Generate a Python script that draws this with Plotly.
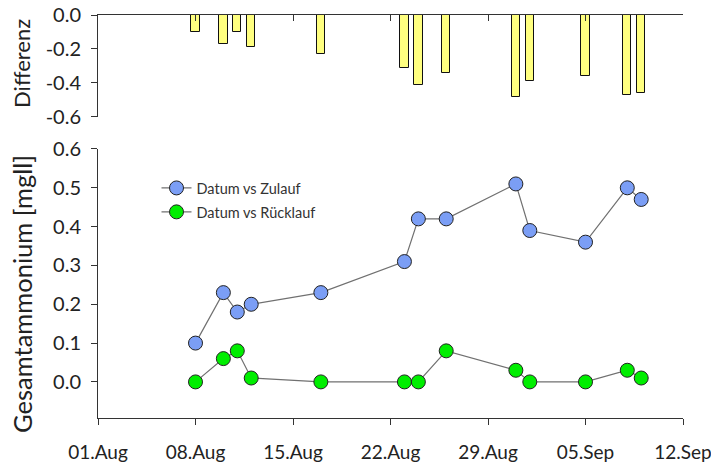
import plotly.graph_objects as go

dates = ["2013-08-08", "2013-08-10", "2013-08-11", "2013-08-12", "2013-08-17",
         "2013-08-23", "2013-08-24", "2013-08-26", "2013-08-31", "2013-09-01",
         "2013-09-05", "2013-09-08", "2013-09-09"]
zulauf = [0.10, 0.23, 0.18, 0.20, 0.23, 0.31, 0.42, 0.42, 0.51, 0.39, 0.36, 0.50, 0.47]
ruecklauf = [0.00, 0.06, 0.08, 0.01, 0.00, 0.00, 0.00, 0.08, 0.03, 0.00, 0.00, 0.03, 0.01]
differenz = [-0.10, -0.17, -0.10, -0.19, -0.23, -0.31, -0.41, -0.34, -0.48, -0.39, -0.36, -0.47, -0.46]

FONT = "Lato, 'Open Sans', sans-serif"
AX = "#333333"
TXT = "#222222"
DAY = 86400000

fig = go.Figure()
fig.add_trace(go.Bar(x=dates, y=differenz, width=[0.6 * DAY] * len(dates),
                     marker=dict(color="#FFFF80", line=dict(color="#111111", width=1)),
                     xaxis="x", yaxis="y", showlegend=False))
fig.add_trace(go.Scatter(x=dates, y=zulauf, mode="lines+markers", name="Datum vs Zulauf",
                         line=dict(color="#707070", width=1.2),
                         marker=dict(size=14, color="#7B9EF5", line=dict(color="#222222", width=1)),
                         xaxis="x2", yaxis="y2", legend="legend"))
fig.add_trace(go.Scatter(x=dates, y=ruecklauf, mode="lines+markers", name="Datum vs Rücklauf",
                         line=dict(color="#707070", width=1.2),
                         marker=dict(size=14, color="#00EE00", line=dict(color="#222222", width=1)),
                         xaxis="x2", yaxis="y2", legend="legend2"))

xcommon = dict(type="date", range=["2013-08-01", "2013-09-12"], tick0="2013-08-01",
               dtick=7 * DAY, showgrid=False, zeroline=False, showline=True, automargin=False,
               linecolor=AX, linewidth=1, tickcolor=AX, ticklen=6, tickwidth=1)
ycommon = dict(showgrid=False, zeroline=False, showline=True, linecolor=AX, ticks="outside",
               ticklen=6, tickcolor=AX, automargin=False, ticklabelstandoff=6,
               ticklabeloverflow="allow", tickfont=dict(size=20, family=FONT, color=TXT))
legcommon = dict(xanchor="left", yanchor="top", bgcolor="rgba(0,0,0,0)",
                 font=dict(size=14.5, family=FONT, color="#333333"), itemwidth=30)

fig.update_layout(
    width=711, height=463,
    margin=dict(l=98, r=28, t=15, b=45),
    paper_bgcolor="white", plot_bgcolor="white",
    font=dict(family=FONT, color=TXT),
    bargap=0,
    xaxis=dict(xcommon, domain=[0, 1], anchor="y", side="top", ticks="inside",
               showticklabels=False),
    yaxis=dict(ycommon, domain=[0.747, 1], range=[-0.6, 0], tickvals=[0, -0.2, -0.4, -0.6],
               ticktext=["0.0", "-0.2", "-0.4", "-0.6"]),
    xaxis2=dict(xcommon, domain=[0, 1], anchor="y2", ticks="outside", tickformat="%d.%b",
                ticklabelstandoff=11, ticklabeloverflow="allow",
                tickfont=dict(size=19, family=FONT, color=TXT)),
    yaxis2=dict(ycommon, domain=[0, 0.6675], range=[-0.093, 0.6],
                tickvals=[0, 0.1, 0.2, 0.3, 0.4, 0.5, 0.6],
                ticktext=["0.0", "0.1", "0.2", "0.3", "0.4", "0.5", "0.6"]),
    legend=dict(legcommon, x=0.1, y=0.6104),
    legend2=dict(legcommon, x=0.1, y=0.551),
    annotations=[
        dict(text="Differenz", xref="paper", yref="paper", x=-0.13, y=0.881,
             xanchor="center", yanchor="middle", textangle=-90, showarrow=False,
             font=dict(size=22, family=FONT, color=TXT)),
        dict(text="Gesamtammonium [mgll]", xref="paper", yref="paper", x=-0.13, y=0.3077,
             xanchor="center", yanchor="middle", textangle=-90, showarrow=False,
             font=dict(size=25.5, family=FONT, color=TXT)),
    ],
)

fig.write_html("out.html", config={"displayModeBar": False},
               post_script="document.body.style.margin='0';")
